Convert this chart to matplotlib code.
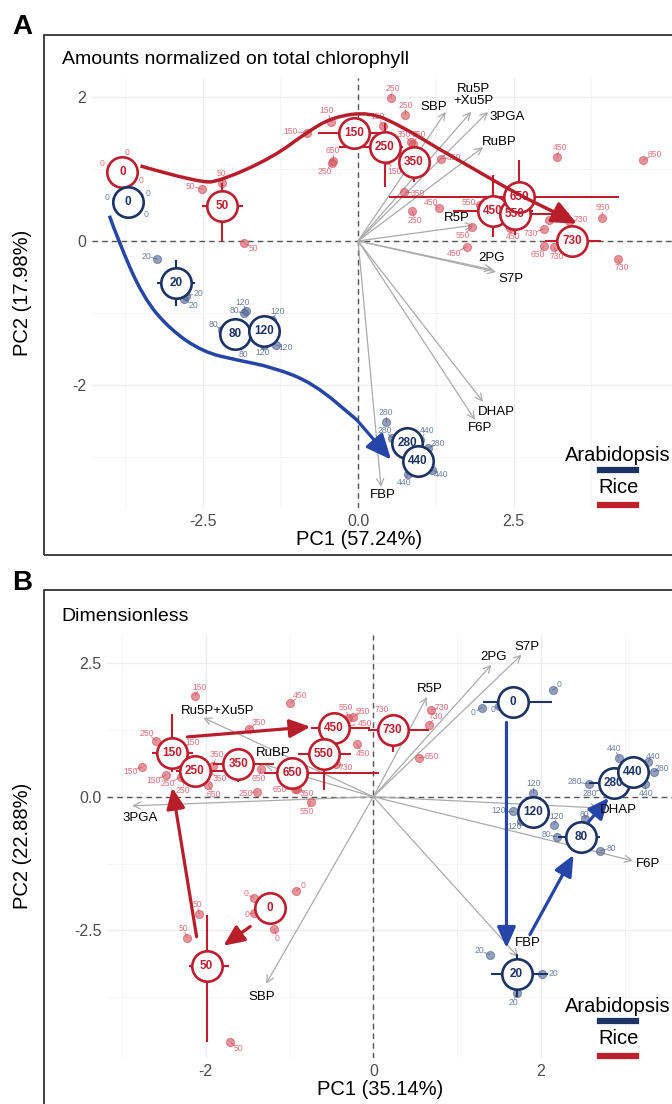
import matplotlib
matplotlib.use('Agg')
import matplotlib.pyplot as plt
from matplotlib.lines import Line2D
from matplotlib.patches import Rectangle, PathPatch
from matplotlib.path import Path

plt.rcParams['font.family'] = ['Liberation Sans', 'DejaVu Sans']

RED = '#BE1E2D'
BLUE = '#1C3366'
BLUE_ARR = '#2545A8'
RED_REP = '#D4505C'
BLUE_REP = '#4E6190'
RED_LAB = '#E2707A'
BLUE_LAB = '#6E7EA8'
GREY = '#ABABAB'

# ---------------- panel A : normalized on chlorophyll ----------------
a_load_names = ['SBP', 'Ru5P\n+Xu5P', '3PGA', 'RuBP', 'R5P', '2PG', 'S7P', 'DHAP', 'F6P', 'FBP']
a_load_x = [1.41, 1.82, 2.09, 2.01, 1.86, 2.17, 2.22, 2.01, 1.88, 0.37]
a_load_y = [1.79, 1.79, 1.79, 1.30, 0.22, -0.40, -0.43, -2.23, -2.48, -3.41]
a_load_lx = [1.21, 1.85, 2.40, 2.27, 1.58, 2.14, 2.46, 2.23, 1.96, 0.40]
a_load_ly = [1.86, 2.02, 1.72, 1.37, 0.32, -0.24, -0.53, -2.37, -2.59, -3.52]

a_rice_t = [0, 50, 150, 250, 350, 450, 550, 650, 730]
a_rice_x = [-3.79, -2.19, -0.06, 0.43, 0.90, 2.17, 2.52, 2.59, 3.44]
a_rice_y = [0.96, 0.48, 1.50, 1.30, 1.09, 0.42, 0.37, 0.61, 0.00]
a_rice_xlo = [-3.79, -2.51, -0.64, -0.31, 0.69, 1.53, 2.09, 0.50, 3.00]
a_rice_xhi = [-3.79, -1.85, 0.55, 0.72, 1.13, 2.81, 3.39, 4.20, 3.91]
a_rice_ylo = [0.96, 0.00, 1.45, 0.75, 0.82, 0.06, 0.08, 0.26, 0.00]
a_rice_yhi = [0.96, 0.80, 1.55, 1.63, 1.29, 0.91, 0.57, 1.12, 0.00]

a_ara_t = [0, 20, 80, 120, 280, 440]
a_ara_x = [-3.70, -2.93, -1.98, -1.51, 0.79, 0.96]
a_ara_y = [0.54, -0.58, -1.29, -1.25, -2.80, -3.05]
a_ara_xlo = [-3.70, -3.23, -1.98, -1.51, 0.79, 0.96]
a_ara_xhi = [-3.70, -2.62, -1.98, -1.51, 0.79, 0.96]
a_ara_ylo = [0.54, -0.90, -1.29, -1.25, -2.80, -3.05]
a_ara_yhi = [0.54, -0.26, -1.29, -1.25, -2.80, -3.05]

# replicates: time, point, label position
a_rice_rep_t = [0, 0, 0, 50, 50, 50, 150, 150, 150, 150, 250, 250, 250, 250,
                350, 350, 350, 350, 450, 450, 450, 450, 550, 550, 550,
                650, 650, 650, 650, 730, 730, 730, 730]
a_rice_rep_x = [-3.76, -3.92, -3.62, -2.51, -2.19, -1.83, -0.82, -0.43, 0.40, 0.47,
                0.53, 0.76, 0.87, -0.42, 0.85, 0.88, 1.33, 0.74, 1.30, 3.20, 1.75, 2.44,
                1.96, 1.83, 3.92, -0.40, 2.99, 4.58, 3.07, 2.99, 3.15, 4.18, 3.40]
a_rice_rep_y = [1.08, 1.00, 0.90, 0.72, 0.80, -0.03, 1.50, 1.65, 1.59, 1.12,
                1.98, 1.75, 0.42, 1.08, 1.37, 1.35, 1.14, 0.68, 0.46, 1.16, -0.08, 0.18,
                0.50, 0.19, 0.32, 1.11, -0.07, 1.12, 0.29, 0.17, -0.08, -0.25, 0.28]
a_rice_rep_lx = [-3.71, -4.12, -3.49, -2.70, -2.19, -1.69, -1.09, -0.50, 0.32, 0.58,
                 0.56, 0.77, 0.92, -0.53, 0.74, 0.98, 1.54, 0.96, 1.17, 3.25, 1.54, 2.49,
                 1.78, 1.69, 3.94, -0.40, 2.89, 4.77, 3.23, 2.78, 3.20, 4.24, 3.59]
a_rice_rep_ly = [1.22, 1.08, 0.84, 0.76, 0.94, -0.10, 1.52, 1.81, 1.72, 0.96,
                 2.12, 1.88, 0.29, 0.96, 1.47, 1.48, 1.16, 0.66, 0.53, 1.30, -0.17, 0.06,
                 0.53, 0.08, 0.46, 1.25, -0.19, 1.20, 0.31, 0.10, -0.22, -0.37, 0.30]

a_ara_rep_t = [0, 0, 0, 20, 20, 20, 80, 80, 80, 120, 120, 120, 120, 280, 280, 280, 440, 440, 440]
a_ara_rep_x = [-3.85, -3.55, -3.58, -3.23, -2.77, -2.80, -1.83, -2.19, -1.90,
               -1.80, -1.38, -1.32, -1.51, 0.45, 0.55, 1.13, 1.00, 1.19, 0.80]
a_ara_rep_y = [0.58, 0.62, 0.45, -0.25, -0.76, -0.80, -1.00, -1.23, -1.44,
               -0.97, -1.09, -1.44, -1.44, -2.51, -2.73, -2.87, -2.76, -3.17, -3.23]
a_ara_rep_lx = [-4.04, -3.38, -3.41, -3.41, -2.57, -2.65, -1.99, -2.33, -1.85,
                -1.86, -1.30, -1.17, -1.54, 0.45, 0.43, 1.29, 1.11, 1.33, 0.74]
a_ara_rep_ly = [0.60, 0.66, 0.37, -0.21, -0.73, -0.90, -0.97, -1.16, -1.58,
                -0.85, -0.98, -1.48, -1.55, -2.38, -2.63, -2.81, -2.62, -3.24, -3.35]

# trajectories (hand traced waypoints, last point = arrow tip)
a_rice_path_x = [-3.50, -2.54, -2.19, -1.37, -0.82, -0.40, 0.19, 0.72, 1.25, 1.90, 2.54, 3.18, 3.52]
a_rice_path_y = [1.04, 0.80, 0.84, 1.16, 1.51, 1.72, 1.79, 1.58, 1.30, 0.98, 0.66, 0.39, 0.24]
a_ara_path_x = [-4.00, -3.86, -3.46, -3.02, -2.49, -1.95, -1.37, -0.72, -0.02, 0.53]
a_ara_path_y = [0.35, 0.01, -0.78, -1.23, -1.54, -1.65, -1.75, -1.97, -2.48, -3.03]

# ---------------- panel B : dimensionless ----------------
b_load_names = ['Ru5P+Xu5P', 'RuBP', '3PGA', 'SBP', 'FBP', 'F6P', 'DHAP', '2PG', 'S7P', 'R5P']
b_load_x = [-2.03, -1.30, -2.88, -1.28, 1.73, 3.10, 2.70, 1.41, 1.77, 0.64]
b_load_y = [1.48, 0.60, -0.17, -3.50, -3.00, -1.20, -0.21, 2.47, 2.66, 1.87]
b_load_lx = [-1.86, -1.19, -2.78, -1.33, 1.84, 3.28, 2.93, 1.43, 1.83, 0.67]
b_load_ly = [1.61, 0.82, -0.39, -3.75, -2.73, -1.25, -0.24, 2.62, 2.81, 2.02]

b_rice_t = [0, 50, 150, 250, 350, 450, 550, 650, 730]
b_rice_x = [-1.23, -1.99, -2.40, -2.13, -1.61, -0.47, -0.59, -0.97, 0.23]
b_rice_y = [-2.08, -3.16, 0.82, 0.49, 0.62, 1.29, 0.80, 0.45, 1.25]
b_rice_xlo = [-1.23, -2.20, -2.64, -2.35, -1.92, -0.75, -0.90, -1.31, -0.06]
b_rice_xhi = [-1.23, -1.72, -2.15, -1.55, -1.19, -0.04, -0.27, 0.07, 0.67]
b_rice_ylo = [-2.08, -4.59, 0.47, 0.25, 0.28, 1.29, 0.13, 0.45, 0.84]
b_rice_yhi = [-2.08, -2.21, 1.54, 0.72, 0.92, 1.29, 1.12, 0.45, 1.25]

b_ara_t = [0, 20, 80, 120, 280, 440]
b_ara_x = [1.67, 1.71, 2.48, 1.91, 2.87, 3.10]
b_ara_y = [1.78, -3.31, -0.75, -0.28, 0.26, 0.47]
b_ara_xlo = [1.31, 1.40, 2.21, 1.91, 2.58, 3.10]
b_ara_xhi = [2.13, 2.08, 2.71, 1.91, 2.87, 3.10]
b_ara_ylo = [1.78, -3.75, -0.75, -0.28, 0.26, 0.47]
b_ara_yhi = [1.78, -2.95, -0.75, -0.28, 0.26, 0.47]

b_rice_rep_t = [0, 0, 0, 0, 50, 50, 50, 150, 150, 150, 150, 250, 250, 250, 250,
                350, 350, 350, 350, 450, 450, 450, 550, 550, 550, 650, 650, 650, 650,
                730, 730, 730, 730]
b_rice_rep_x = [-1.43, -0.92, -1.18, -1.42, -2.08, -2.22, -1.71, -2.13, -2.76, -2.47, -2.28,
                -2.59, -2.30, -2.25, -1.39, -1.49, -1.91, -1.97, -0.91, -0.99, -0.36, -0.20,
                -0.30, -0.24, -0.75, -1.97, -1.34, -0.93, 0.55, 0.69, 0.67, 0.20, -0.45]
b_rice_rep_y = [-1.89, -1.76, -2.47, -2.17, -2.19, -2.64, -4.59, 1.89, 0.56, 0.41, 0.92,
                1.05, 0.37, 0.33, 0.09, 1.27, 0.58, 0.47, 0.15, 1.76, 1.32, 0.99,
                1.48, 1.50, -0.09, 0.22, 0.52, 0.15, 0.73, 1.63, 1.35, 1.28, 0.62]
b_rice_rep_lx = [-1.52, -0.84, -1.15, -1.51, -2.10, -2.27, -1.61, -2.07, -2.90, -2.62, -2.16,
                 -2.70, -2.45, -2.28, -1.52, -1.37, -1.87, -1.83, -0.79, -0.87, -0.10, -0.12,
                 -0.33, -0.12, -0.79, -1.90, -1.37, -1.12, 0.70, 0.82, 0.74, 0.10, -0.33]
b_rice_rep_ly = [-1.82, -1.67, -2.66, -2.21, -2.02, -2.47, -4.72, 2.04, 0.47, 0.30, 1.01,
                 1.18, 0.24, 0.12, 0.07, 1.39, 0.79, 0.34, 0.06, 1.89, 1.37, 0.81,
                 1.67, 1.59, -0.28, 0.05, 0.34, 0.13, 0.75, 1.67, 1.50, 1.63, 0.54]

b_ara_rep_t = [0, 0, 0, 20, 20, 20, 80, 80, 80, 120, 120, 120, 120, 280, 280, 280, 440, 440, 440]
b_ara_rep_x = [1.30, 1.50, 2.14, 1.39, 2.01, 1.71, 2.53, 2.19, 2.71,
               1.91, 1.67, 1.76, 2.16, 2.57, 2.75, 3.35, 2.93, 3.28, 3.24]
b_ara_rep_y = [1.67, 1.70, 1.99, -2.96, -3.31, -3.67, -0.41, -0.75, -1.01,
               0.07, -0.26, -0.45, -0.52, 0.24, 0.15, 0.47, 0.73, 0.66, 0.24]
b_ara_rep_lx = [1.19, 1.43, 2.22, 1.27, 2.15, 1.67, 2.52, 2.07, 2.84,
                1.92, 1.50, 1.69, 2.19, 2.40, 2.59, 3.45, 2.88, 3.34, 3.26]
b_ara_rep_ly = [1.57, 1.63, 2.10, -2.87, -3.30, -3.86, -0.33, -0.71, -0.96,
                0.24, -0.26, -0.56, -0.37, 0.28, 0.07, 0.52, 0.90, 0.75, 0.07]

# straight arrows between time points: x0, y0, x1, y1
b_rice_arr = [(-1.47, -2.43, -1.79, -2.79), (-2.11, -2.62, -2.40, 0.17), (-2.22, 1.12, -0.75, 1.31)]
b_ara_arr = [(1.59, 1.39, 1.59, -2.83), (1.87, -2.58, 2.39, -1.09), (2.57, -0.47, 2.81, -0.02)]


def setup_axes(ax, xlim, ylim, xmaj, xmin, ymaj, ymin, xlabs, ylabs):
    ax.set_xlim(xlim)
    ax.set_ylim(ylim)
    ax.set_xticks(xmaj)
    ax.set_xticks(xmin, minor=True)
    ax.set_yticks(ymaj)
    ax.set_yticks(ymin, minor=True)
    ax.set_xticklabels(xlabs)
    ax.set_yticklabels(ylabs)
    ax.grid(True, which='major', color='#EDEDED', lw=0.9)
    ax.grid(True, which='minor', color='#F5F5F5', lw=0.7)
    ax.set_axisbelow(True)
    ax.tick_params(which='both', length=0, labelsize=11.5, labelcolor='#4D4D4D', pad=4)
    for s in ax.spines.values():
        s.set_visible(False)
    ax.axhline(0, color='#555555', ls=(0, (4, 3)), lw=1.0, zorder=1)
    ax.axvline(0, color='#555555', ls=(0, (4, 3)), lw=1.0, zorder=1)


def draw_loadings(ax, names, x, y, lx, ly):
    for n, xx, yy, tx, ty in zip(names, x, y, lx, ly):
        ax.annotate('', xy=(xx, yy), xytext=(0, 0),
                    arrowprops=dict(arrowstyle='->,head_length=0.5,head_width=0.25', color=GREY,
                                    lw=0.9, shrinkA=0, shrinkB=0, mutation_scale=10), zorder=2)
        ax.text(tx, ty, n, ha='center', va='center', fontsize=9.5, linespacing=0.95, zorder=8)


def draw_reps(ax, t, x, y, lx, ly, pc, lc):
    for tt, xx, yy, tx, ty in zip(t, x, y, lx, ly):
        ax.plot([xx, xx + 0.55 * (tx - xx)], [yy, yy + 0.55 * (ty - yy)], color=lc, lw=0.6, zorder=3)
        ax.text(tx, ty, str(tt), ha='center', va='center', fontsize=6.2, color=lc, zorder=3)
    ax.scatter(x, y, s=34, color=pc, alpha=0.6, edgecolor=pc, lw=0.8, zorder=3)


def draw_means(ax, t, x, y, xlo, xhi, ylo, yhi, color):
    ax.hlines(y, xlo, xhi, color=color, lw=1.5, zorder=4)
    ax.vlines(x, ylo, yhi, color=color, lw=1.5, zorder=4)
    ax.scatter(x, y, s=480, facecolor='white', edgecolor=color, lw=1.9, zorder=5)
    for tt, xx, yy in zip(t, x, y):
        ax.text(xx, yy, str(tt), ha='center', va='center', fontsize=8.5,
                fontweight='bold', color=color, zorder=6)


def arrow(ax, x0, y0, x1, y1, color, ms=14):
    ax.annotate('', xy=(x1, y1), xytext=(x0, y0),
                arrowprops=dict(arrowstyle='-|>,head_length=0.9,head_width=0.4', color=color,
                                lw=2.3, shrinkA=0, shrinkB=0, mutation_scale=ms), zorder=7)


def draw_path(ax, px, py, color):
    # smooth curve: traced points used as quadratic bezier controls
    pts = list(zip(px[:-1], py[:-1]))
    verts = [pts[0]]
    codes = [Path.MOVETO]
    for i in range(1, len(pts) - 1):
        mid = ((pts[i][0] + pts[i + 1][0]) / 2, (pts[i][1] + pts[i + 1][1]) / 2)
        verts += [pts[i], mid]
        codes += [Path.CURVE3, Path.CURVE3]
    verts.append(pts[-1])
    codes.append(Path.LINETO)
    ax.add_patch(PathPatch(Path(verts, codes), fill=False, ec=color, lw=2.5, zorder=7))
    arrow(ax, px[-2], py[-2], px[-1], py[-1], color, ms=17)


def legend(fig, ytop):
    fig.text(0.92, ytop, 'Arabidopsis', ha='center', va='center', fontsize=14.5)
    fig.add_artist(Line2D([0.893, 0.946], [ytop - 0.0125, ytop - 0.0125], color=BLUE, lw=4.5))
    fig.text(0.92, ytop - 0.0285, 'Rice', ha='center', va='center', fontsize=14.5)
    fig.add_artist(Line2D([0.893, 0.946], [ytop - 0.044, ytop - 0.044], color='#C0202C', lw=4.5))


fig = plt.figure(figsize=(6.72, 11.04), dpi=100)

# panel frames
fig.add_artist(Rectangle((0.0655, 0.4973), 1.0, 0.471, transform=fig.transFigure,
                         fill=False, ec='#333333', lw=1.3))
fig.add_artist(Rectangle((0.0655, -0.1), 1.0, 0.5656, transform=fig.transFigure,
                         fill=False, ec='#333333', lw=1.3))

# ---- A ----
axA = fig.add_axes([0.1369, 0.5399, 0.9048, 0.3895])
setup_axes(axA, (-4.28, 5.50), (-3.70, 2.26),
           [-2.5, 0, 2.5], [-3.75, -1.25, 1.25, 3.75], [-2, 0, 2], [-3, -1, 1],
           ['-2.5', '0.0', '2.5'], ['-2', '0', '2'])
draw_loadings(axA, a_load_names, a_load_x, a_load_y, a_load_lx, a_load_ly)
draw_reps(axA, a_rice_rep_t, a_rice_rep_x, a_rice_rep_y, a_rice_rep_lx, a_rice_rep_ly, RED_REP, RED_LAB)
draw_reps(axA, a_ara_rep_t, a_ara_rep_x, a_ara_rep_y, a_ara_rep_lx, a_ara_rep_ly, BLUE_REP, BLUE_LAB)
draw_means(axA, a_rice_t, a_rice_x, a_rice_y, a_rice_xlo, a_rice_xhi, a_rice_ylo, a_rice_yhi, RED)
draw_means(axA, a_ara_t, a_ara_x, a_ara_y, a_ara_xlo, a_ara_xhi, a_ara_ylo, a_ara_yhi, BLUE)
draw_path(axA, a_rice_path_x, a_rice_path_y, '#B81E2A')
draw_path(axA, a_ara_path_x, a_ara_path_y, BLUE_ARR)

# ---- B ----
axB = fig.add_axes([0.1592, 0.0417, 0.8824, 0.3832])
setup_axes(axB, (-3.18, 3.90), (-4.89, 3.03),
           [-2, 0, 2], [-3, -1, 1, 3], [-2.5, 0, 2.5], [-3.75, -1.25, 1.25],
           ['-2', '0', '2'], ['-2.5', '0.0', '2.5'])
draw_loadings(axB, b_load_names, b_load_x, b_load_y, b_load_lx, b_load_ly)
draw_reps(axB, b_rice_rep_t, b_rice_rep_x, b_rice_rep_y, b_rice_rep_lx, b_rice_rep_ly, RED_REP, RED_LAB)
draw_reps(axB, b_ara_rep_t, b_ara_rep_x, b_ara_rep_y, b_ara_rep_lx, b_ara_rep_ly, BLUE_REP, BLUE_LAB)
draw_means(axB, b_rice_t, b_rice_x, b_rice_y, b_rice_xlo, b_rice_xhi, b_rice_ylo, b_rice_yhi, RED)
draw_means(axB, b_ara_t, b_ara_x, b_ara_y, b_ara_xlo, b_ara_xhi, b_ara_ylo, b_ara_yhi, BLUE)
for a in b_rice_arr:
    arrow(axB, *a, '#B81E2A')
for a in b_ara_arr:
    arrow(axB, *a, BLUE_ARR)

# texts
fig.text(0.033, 0.9755, 'A', fontsize=20, fontweight='bold', ha='center', va='center')
fig.text(0.092, 0.9457, 'Amounts normalized on total chlorophyll', fontsize=14, ha='left', va='center')
fig.text(0.534, 0.511, 'PC1 (57.24%)', fontsize=14.5, ha='center', va='center')
fig.text(0.033, 0.735, 'PC2 (17.98%)', fontsize=14.5, ha='center', va='center', rotation=90)
legend(fig, 0.587)

fig.text(0.033, 0.472, 'B', fontsize=20, fontweight='bold', ha='center', va='center')
fig.text(0.092, 0.442, 'Dimensionless', fontsize=14, ha='left', va='center')
fig.text(0.565, 0.0127, 'PC1 (35.14%)', fontsize=14.5, ha='center', va='center')
fig.text(0.033, 0.234, 'PC2 (22.88%)', fontsize=14.5, ha='center', va='center', rotation=90)
legend(fig, 0.0879)

plt.savefig('out.png', dpi=100)
